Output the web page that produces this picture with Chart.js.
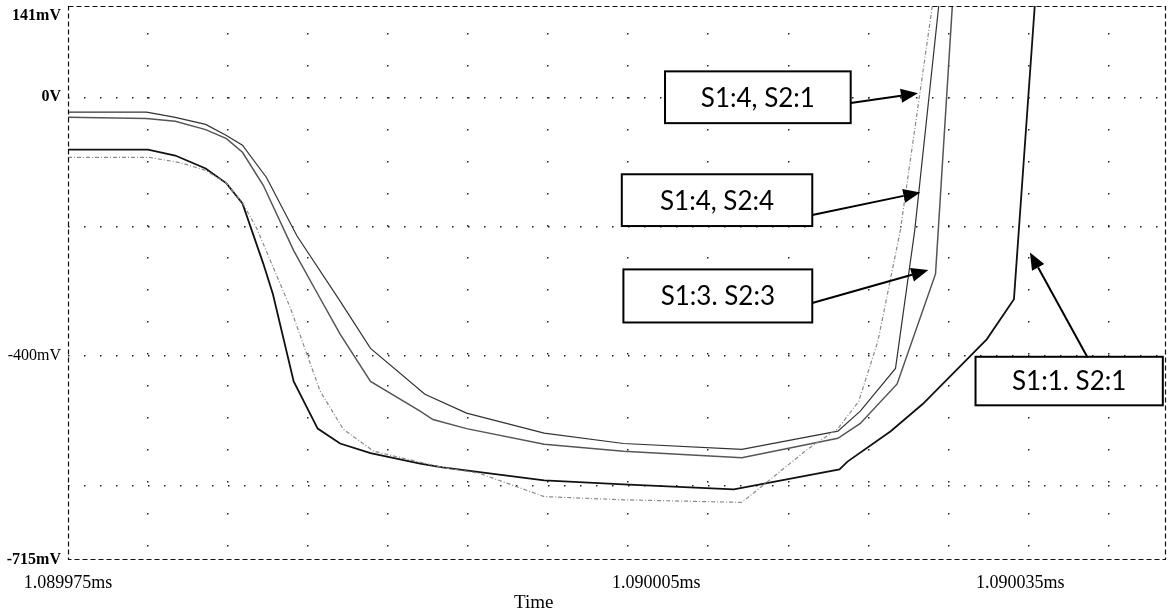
<!DOCTYPE html>
<html>
<head>
<meta charset="utf-8">
<script src="https://cdn.jsdelivr.net/npm/chart.js@4.4.1/dist/chart.umd.min.js"></script>
<style>
  html, body { margin: 0; padding: 0; background: #fff; }
  #wrap { width: 1174px; height: 612px; }
</style>
</head>
<body>
<div id="wrap"><canvas id="chart"></canvas></div>
<script>
// time in ns after 1.089975ms, voltage in mV
const seriesNames = ['S1:4, S2:1', 'S1:4, S2:4', 'S1:3. S2:3', 'S1:1. S2:1'];

const tS41 = [0, 5.1, 7.0, 8.6, 9.9, 10.9, 11.8, 13.9, 15.75, 17.2, 19.1, 23.4, 25.7, 29.75, 34.7, 42.1, 42.7, 46.25, 48.1, 49.4, 50.6, 52.0, 54.0, 55.0];
const vS41 = [-93, -93, -101, -113, -133, -163, -203, -326, -454, -513, -547, -572, -581, -617, -622, -626, -614, -543, -512, -470, -377, -206, 141, 315];

const tS44 = [0, 4.9, 5.6, 6.7, 8.6, 9.9, 10.9, 12.4, 14.3, 17.0, 18.9, 22.3, 24.9, 29.75, 34.7, 42.1, 48.1, 49.5, 51.7, 52.9, 54.4, 55.3];
const vS44 = [-23, -23, -26, -31, -42, -59, -74, -124, -214, -315, -388, -459, -488, -519, -535, -544, -516, -485, -419, -206, 141, 349];

const tS33 = [0, 4.9, 6.7, 8.6, 9.9, 10.9, 12.2, 14.1, 15.6, 17.0, 18.9, 22.0, 22.8, 24.9, 29.75, 34.7, 42.1, 48.1, 49.5, 51.8, 54.2, 55.25, 55.7];
const vS33 = [-31, -33, -37, -50, -64, -85, -136, -237, -304, -366, -439, -485, -498, -512, -536, -547, -557, -527, -504, -443, -273, 141, 317];

const tS11 = [0, 5.0, 6.7, 8.6, 9.9, 10.9, 12.2, 12.8, 14.1, 15.6, 17.0, 18.9, 22.0, 23.4, 29.75, 34.7, 41.6, 48.2, 48.7, 51.4, 53.4, 57.4, 59.1, 60.4, 61.0];
const vS11 = [-81, -81, -90, -110, -133, -164, -257, -304, -439, -512, -535, -550, -566, -572, -592, -598, -606, -575, -563, -516, -474, -374, -312, 141, 350];

// axes
const xMin = 0, xMax = 68.6;
const yMin = -715, yMax = 141;
const xGridTicks = [5, 10, 15, 20, 25, 30, 35, 40, 45, 50, 55, 60, 65];
const xLabelTicks = [0, 36.75, 59.5];
const xLabelText = ['1.089975ms', '1.090005ms', '1.090035ms'];
const yGridTicks = [0, -200, -400, -600];
const yLabelTicks = [126, 0, -400, -715];
const yLabelText = ['141mV', '0V', '-400mV', '-715mV'];

// callouts, in data units (ns, mV)
const callouts = [
    { text: seriesNames[0], box: [37.3, 48.9, 40, -40], from: [48.9, -9], to: [53.1, 6] },
    { text: seriesNames[1], box: [34.6, 46.5, -119, -199], from: [46.5, -182], to: [53.25, -147] },
    { text: seriesNames[2], box: [34.7, 46.5, -266, -348], from: [46.5, -318], to: [53.75, -267] },
    { text: seriesNames[3], box: [56.7, 68.4, -401, -476], from: [63.7, -402], to: [60.1, -240] }
];

const toPoints = (ts, vs) => ts.map((t, i) => ({ x: t, y: vs[i] }));
const union = (a, b) => Array.from(new Set(a.concat(b))).sort((p, q) => p - q);

const frameAndNotes = {
    id: 'frameAndNotes',
    afterDatasetsDraw(chart) {
        const { ctx, chartArea: a, scales: { x, y } } = chart;
        ctx.save();
        // dashed plot frame
        ctx.strokeStyle = '#111';
        ctx.lineWidth = 1.2;
        ctx.setLineDash([5, 3]);
        ctx.strokeRect(a.left + 0.5, a.top + 0.5, a.right - a.left - 1, a.bottom - a.top - 1);
        ctx.setLineDash([]);

        callouts.forEach(c => {
            const x1 = x.getPixelForValue(c.box[0]), x2 = x.getPixelForValue(c.box[1]);
            const y1 = y.getPixelForValue(c.box[2]), y2 = y.getPixelForValue(c.box[3]);
            ctx.fillStyle = '#fff';
            ctx.fillRect(x1, y1, x2 - x1, y2 - y1);
            ctx.strokeStyle = '#000';
            ctx.lineWidth = 2;
            ctx.strokeRect(x1, y1, x2 - x1, y2 - y1);
            ctx.fillStyle = '#000';
            ctx.font = '26px Lato';
            ctx.textAlign = 'center';
            ctx.textBaseline = 'middle';
            ctx.fillText(c.text, (x1 + x2) / 2, (y1 + y2) / 2 + 1);

            // arrow
            const fx = x.getPixelForValue(c.from[0]), fy = y.getPixelForValue(c.from[1]);
            const tx = x.getPixelForValue(c.to[0]), ty = y.getPixelForValue(c.to[1]);
            const ang = Math.atan2(ty - fy, tx - fx);
            const len = 17, half = 7;
            const bx = tx - len * Math.cos(ang), by = ty - len * Math.sin(ang);
            ctx.beginPath();
            ctx.moveTo(fx, fy);
            ctx.lineTo(bx, by);
            ctx.stroke();
            ctx.beginPath();
            ctx.moveTo(tx, ty);
            ctx.lineTo(bx + half * Math.sin(ang), by - half * Math.cos(ang));
            ctx.lineTo(bx - half * Math.sin(ang), by + half * Math.cos(ang));
            ctx.closePath();
            ctx.fill();
        });

        // axis title
        ctx.fillStyle = '#000';
        ctx.font = '19px "Liberation Serif"';
        ctx.textAlign = 'center';
        ctx.textBaseline = 'middle';
        ctx.fillText('Time', x.getPixelForValue(29.1), 603);
        ctx.restore();
    }
};

new Chart(document.getElementById('chart'), {
    type: 'line',
    data: {
        datasets: [
            {
                label: seriesNames[0],
                data: toPoints(tS41, vS41),
                borderColor: '#8a8a8a',
                borderWidth: 1.2,
                borderDash: [4, 2, 1, 2]
            },
            {
                label: seriesNames[1],
                data: toPoints(tS44, vS44),
                borderColor: '#333',
                borderWidth: 1.2
            },
            {
                label: seriesNames[2],
                data: toPoints(tS33, vS33),
                borderColor: '#555',
                borderWidth: 1.5
            },
            {
                label: seriesNames[3],
                data: toPoints(tS11, vS11),
                borderColor: '#111',
                borderWidth: 1.8
            }
        ]
    },
    options: {
        responsive: true,
        maintainAspectRatio: false,
        devicePixelRatio: 1,
        animation: false,
        layout: { padding: { top: 6, right: 8, left: 0, bottom: 0 } },
        elements: {
            point: { radius: 0 },
            line: { tension: 0, fill: false }
        },
        datasets: { line: { clip: 0 } },
        plugins: {
            legend: { display: false },
            tooltip: { enabled: false }
        },
        scales: {
            x: {
                type: 'linear',
                min: xMin,
                max: xMax,
                afterBuildTicks: s => { s.ticks = union(xGridTicks, xLabelTicks).map(v => ({ value: v })); },
                afterFit: s => { s.height = 52; s.paddingLeft = 0; s.paddingRight = 0; },
                border: { display: false, dash: [1.5, 30.5], dashOffset: 5 },
                grid: {
                    drawTicks: false,
                    lineWidth: 1.5,
                    color: ctx => (ctx.tick && xGridTicks.includes(ctx.tick.value)) ? '#222' : 'rgba(0,0,0,0)'
                },
                ticks: {
                    autoSkip: false,
                    maxRotation: 0,
                    padding: 12,
                    color: '#000',
                    font: { family: '"Liberation Serif"', size: 18 },
                    callback: v => {
                        const i = xLabelTicks.indexOf(v);
                        return i >= 0 ? xLabelText[i] : '';
                    }
                }
            },
            y: {
                type: 'linear',
                min: yMin,
                max: yMax,
                afterBuildTicks: s => { s.ticks = union(yGridTicks, yLabelTicks).map(v => ({ value: v })); },
                afterFit: s => { s.width = 68; s.paddingTop = 0; s.paddingBottom = 0; },
                border: { display: false, dash: [1.5, 14.5], dashOffset: 0 },
                grid: {
                    drawTicks: false,
                    lineWidth: 1.5,
                    color: ctx => (ctx.tick && yGridTicks.includes(ctx.tick.value)) ? '#222' : 'rgba(0,0,0,0)'
                },
                ticks: {
                    autoSkip: false,
                    padding: 7,
                    color: '#000',
                    font: ctx => ({
                        family: '"Liberation Serif"',
                        size: 16,
                        weight: (ctx.tick && ctx.tick.value === -400) ? 'normal' : 'bold'
                    }),
                    callback: v => {
                        const i = yLabelTicks.indexOf(v);
                        return i >= 0 ? yLabelText[i] : '';
                    }
                }
            }
        }
    },
    plugins: [frameAndNotes]
});
</script>
</body>
</html>
